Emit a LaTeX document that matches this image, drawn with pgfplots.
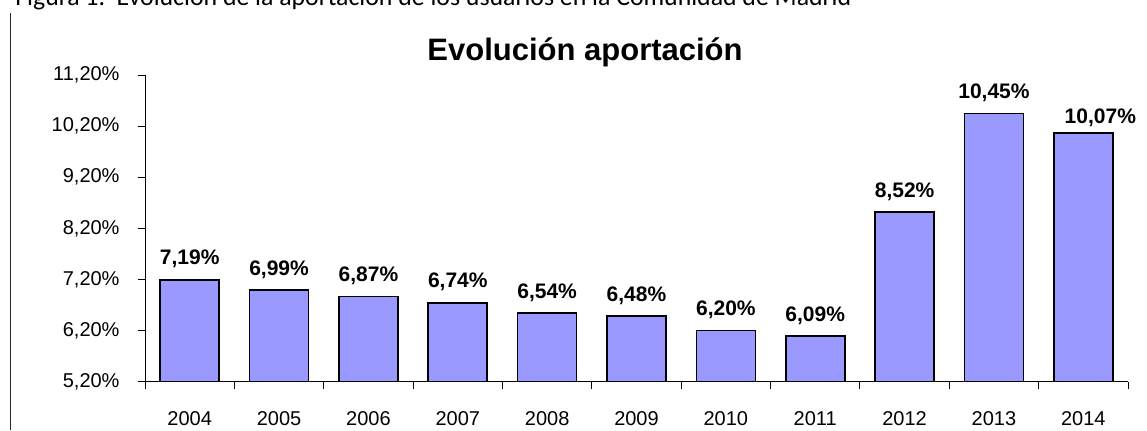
\documentclass[border=0pt]{standalone}
\usepackage{pgfplots}
\pgfplotsset{compat=1.18}
\usepackage{fontspec}
\setmainfont{Liberation Sans}
\newfontfamily\calibri{Carlito}
\definecolor{barblue}{HTML}{9999FF}
\begin{document}
\begin{tikzpicture}
\useasboundingbox (0,0) rectangle (573.5pt,215pt);
\node[anchor=base west, inner sep=0pt, font=\calibri\fontsize{12.9}{15}\selectfont] at (7.5pt,212.3pt) {Figura 1.\ \ Evolución de la aportación de los usuarios en la Comunidad de Madrid};
\draw[line width=0.5pt, black!85] (5pt,0pt) -- (5pt,208.5pt);
\node[anchor=base, inner sep=0pt, font=\bfseries\fontsize{15.5}{18}\selectfont] at (292.5pt,185pt) {Evolución aportación};
\begin{axis}[
  at={(72.5pt,24.15pt)}, anchor=south west,
  scale only axis, width=491.5pt, height=153.35pt,
  xmin=0.5, xmax=11.5, ymin=5.2, ymax=11.2,
  axis x line*=bottom, axis y line*=left,
  axis line style={-, black, line width=0.5pt},
  ytick={5.2,6.2,7.2,8.2,9.2,10.2,11.2},
  yticklabels={{5,20\%},{6,20\%},{7,20\%},{8,20\%},{9,20\%},{10,20\%},{11,20\%}},
  xtick={1,2,3,4,5,6,7,8,9,10,11},
  xticklabels={2004,2005,2006,2007,2008,2009,2010,2011,2012,2013,2014},
  major x tick style={draw=none},
  minor xtick={0.5,1.5,2.5,3.5,4.5,5.5,6.5,7.5,8.5,9.5,10.5,11.5},
  tick align=outside,
  tick style={black, line width=0.5pt},
  major tick length=3.5pt, minor tick length=3.5pt,
  ticklabel style={font=\fontsize{10}{12}\selectfont},
  yticklabel style={xshift=-5.7pt},
  xticklabel style={yshift=-7.8pt},
  ybar, bar width=29.5pt,
  nodes near coords, point meta=explicit symbolic,
  every node near coord/.append style={font=\bfseries\fontsize{10.5}{12}\selectfont, anchor=base, yshift=7.5pt, inner sep=0pt},
]
\addplot[bar shift=0pt, draw=black, line width=0.8pt, fill=barblue] coordinates {
  (1,7.19) [7,19\%]
  (2,6.99) [6,99\%]
  (3,6.87) [6,87\%]
  (4,6.74) [6,74\%]
  (5,6.54) [6,54\%]
  (6,6.48) [6,48\%]
  (7,6.20) [6,20\%]
  (8,6.09) [6,09\%]
  (9,8.52) [8,52\%]
  (10,10.45) [10,45\%]
};
\addplot[bar shift=0pt, draw=black, line width=0.8pt, fill=barblue,
  every node near coord/.append style={xshift=8.5pt, yshift=-3pt}] coordinates {
  (11,10.07) [10,07\%]
};
\end{axis}
\end{tikzpicture}
\end{document}
